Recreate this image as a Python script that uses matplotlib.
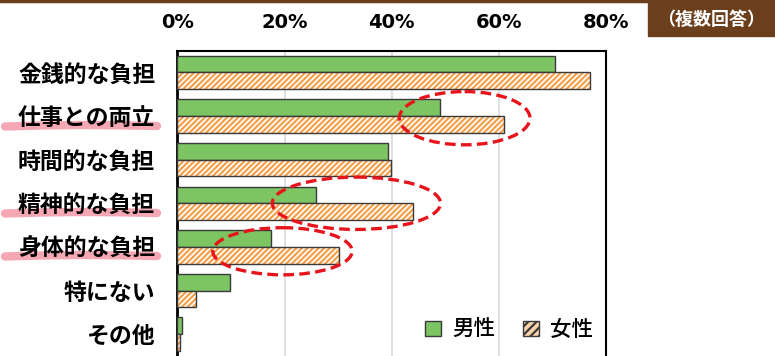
import numpy as np
import matplotlib.pyplot as plt
from matplotlib.patches import Ellipse, Patch
from matplotlib.lines import Line2D
from matplotlib import font_manager

plt.rcParams['font.family'] = ['Noto Sans CJK JP', 'DejaVu Sans']
plt.rcParams['hatch.linewidth'] = 1.6

# 回答割合（%）
categories = ['金銭的な負担', '仕事との両立', '時間的な負担', '精神的な負担',
              '身体的な負担', '特にない', 'その他']
male = [70.4, 49.0, 39.3, 25.9, 17.5, 9.8, 0.8]
female = [77.0, 60.9, 39.8, 44.0, 30.2, 3.4, 0.5]
ticks = [0, 20, 40, 60, 80]
tick_labels = ['0%', '20%', '40%', '60%', '80%']

green = '#7DC462'
orange = '#F5A04A'
edge = '#3A3A3A'
brown = '#6B3F1B'

# 目盛り用の幅の狭いフォント
names = {f.name for f in font_manager.fontManager.ttflist}
narrow = [n for n in ['Liberation Sans Narrow', 'DejaVu Sans Condensed'] if n in names]
tick_family = narrow[0] if narrow else 'DejaVu Sans'
tick_size = 16 if narrow else 14

fig = plt.figure(figsize=(7.75, 3.56), dpi=100)
ax = fig.add_axes([0.229, 0.0, 0.553, 0.858])

y = np.arange(len(categories))
h = 0.383

ax.barh(y - h / 2, male, height=h, color=green, edgecolor=edge, linewidth=1.0, zorder=3)
# 女性は斜線（オレンジ）＋濃い枠線
ax.barh(y + h / 2, female, height=h, color='white', edgecolor=orange, hatch='//////',
        linewidth=0, zorder=3)
ax.barh(y + h / 2, female, height=h, color='none', edgecolor=edge, linewidth=1.0, zorder=4)

ax.set_xlim(0, 80)
ax.set_ylim(len(categories) - 0.5, -0.5)
ax.set_xticks(ticks)
ax.set_xticklabels(tick_labels, family=tick_family, fontsize=tick_size, fontweight='bold')
ax.xaxis.tick_top()
ax.tick_params(axis='x', length=0, pad=13)
ax.set_yticks(y)
ax.set_yticklabels(categories, fontsize=16.5, fontweight='bold')
ax.tick_params(axis='y', length=0, pad=16)
ax.grid(axis='x', color='#D9D9D9', linewidth=1.2, zorder=0)
ax.set_axisbelow(True)
ax.spines['bottom'].set_visible(False)
ax.spines['left'].set_linewidth(2.0)
ax.spines['top'].set_linewidth(1.5)
ax.spines['right'].set_linewidth(1.5)

# 強調の赤い点線楕円
for cx, cy, w, eh in [(53.6, 1.05, 24.4, 1.22), (33.4, 3.0, 31.4, 1.2), (19.6, 4.1, 26.0, 1.08)]:
    ax.add_patch(Ellipse((cx, cy), w, eh, fill=False, edgecolor='#E8141B',
                         linestyle=(0, (3.2, 1.6)), linewidth=2.4, zorder=6, clip_on=False))

# 凡例
handles = [Patch(facecolor=green, edgecolor=edge, label='男性'),
           Patch(facecolor='#FAD3A8', edgecolor=edge, hatch='////', label='女性')]
ax.legend(handles=handles, loc='center', bbox_to_anchor=(0.774, 0.085), ncol=2,
          frameon=False, fontsize=15.5, handlelength=0.75, handleheight=0.75,
          handletextpad=0.5, columnspacing=1.3,
          prop={'family': ['Noto Sans CJK JP'], 'weight': 'medium', 'size': 15.5})

# ラベル下のピンクの線
for py in [125, 212, 255]:
    xs = np.array([5, 40, 80, 120, 157]) / 775
    ys = 1 - (py + np.array([1.5, 0.5, 0, 0.3, 1.0])) / 356
    fig.add_artist(Line2D(xs, ys, color='#F0788A', alpha=0.65, linewidth=6,
                          solid_capstyle='round', zorder=0))

# 上部の茶色の線と「（複数回答）」
fig.add_artist(Line2D([0, 1], [1 - 1 / 356, 1 - 1 / 356], color=brown, linewidth=2.5))
fig.patches.append(plt.Rectangle((648 / 775, 1 - 36 / 356), 127 / 775, 36 / 356,
                                 transform=fig.transFigure, color=brown, zorder=1))
fig.text(711 / 775, 1 - 19 / 356, '（複数回答）', color='white', fontsize=13,
         fontweight='bold', ha='center', va='center')

fig.savefig('out.png', dpi=100)
